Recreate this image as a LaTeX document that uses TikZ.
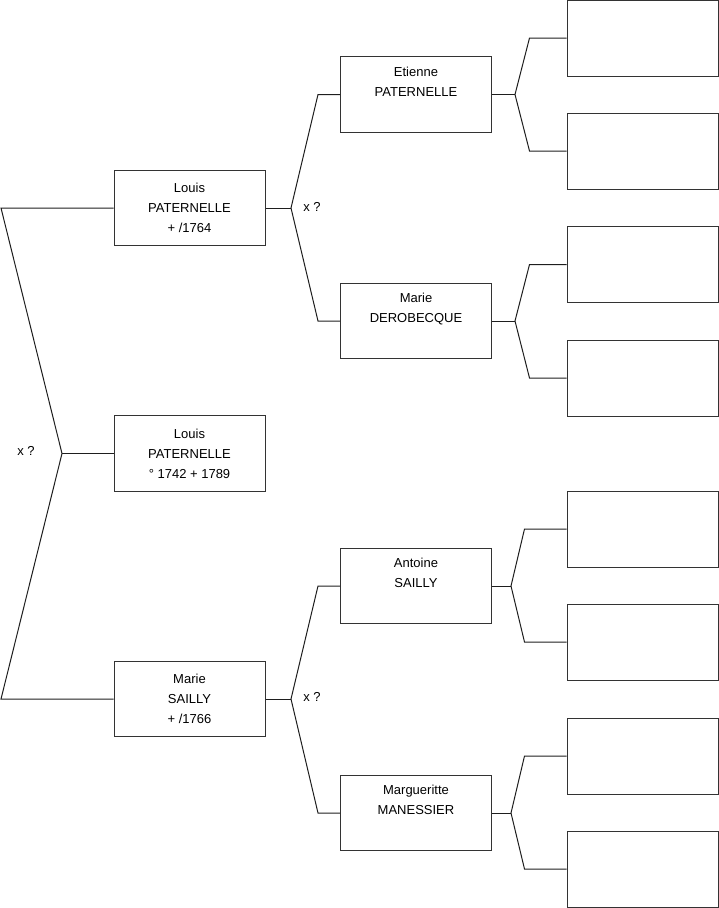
\documentclass[tikz,border=0pt]{standalone}
\usepackage{fontspec}
\setmainfont{Liberation Sans}
\usepackage{tikz}
\usetikzlibrary{calc,positioning}
\definecolor{boxline}{RGB}{51,51,51}
\definecolor{linkline}{RGB}{30,30,30}
\tikzset{
  font=\fontsize{13}{20}\selectfont,
  person/.style={
    draw=boxline, fill=white, line width=1pt, align=center,
    minimum width=151pt, minimum height=75.5pt, inner sep=0pt},
  emptyperson/.style={person, minimum height=76pt},
  link/.style={draw=linkline, line width=1pt},
  unionlbl/.style={inner sep=1pt, font=\fontsize{13}{15}\selectfont},
}

\begin{document}
\begin{tikzpicture}[x=1pt,y=-1pt]

\useasboundingbox (0,0) rectangle (719,908);

% ---------- subject ----------
\node[person] (root) at (189.5,453.5) {Louis\\ PATERNELLE\\ ° 1742 + 1789};

% ---------- parents ----------
\node[person] (fa) at (189.5,208) {Louis\\ PATERNELLE\\ + /1764};
\node[person] (mo) at (189.5,699) {Marie\\ SAILLY\\ + /1766};

% ---------- grandparents ----------
\node[person] (ffa) at (416,94.5) {Etienne\\ PATERNELLE\\ \strut};
\node[person] (fmo) at (416,321)  {Marie\\ DEROBECQUE\\ \strut};
\node[person] (mfa) at (416,586)  {Antoine\\ SAILLY\\ \strut};
\node[person] (mmo) at (416,813)  {Margueritte\\ MANESSIER\\ \strut};

% ---------- great-grandparents (unknown) ----------
\node[emptyperson] (ffafa) at (642.5,38)  {};
\node[emptyperson] (ffamo) at (642.5,151) {};
\node[emptyperson] (fmofa) at (642.5,264.5) {};
\node[emptyperson] (fmomo) at (642.5,378) {};
\node[emptyperson] (mfafa) at (642.5,529) {};
\node[emptyperson] (mfamo) at (642.5,642) {};
\node[emptyperson] (mmofa) at (642.5,756) {};
\node[emptyperson] (mmomo) at (642.5,869) {};

% ---------- fork points ----------
\coordinate (k0) at (62,453.5);
\coordinate (c0a) at (1,208);
\coordinate (c0b) at (1,699);
\coordinate (k1) at (291,208);
\coordinate (k2) at (291,699);
\coordinate (k3) at (515,94.5);
\coordinate (k4) at (515,321);
\coordinate (k5) at (511,586);
\coordinate (k6) at (511,813);

% ---------- links ----------
\draw[link] (fa.west) -- (c0a) -- (k0) -- (c0b) -- (mo.west);
\draw[link] (root.west) -- (k0);

\draw[link] (fa.east) -- (k1);
\draw[link] (ffa.west) -- ++(-22,0) -- (k1) -- ($(fmo.west)+(-22,0)$) -- (fmo.west);
\draw[link] (mo.east) -- (k2);
\draw[link] (mfa.west) -- ++(-22,0) -- (k2) -- ($(mmo.west)+(-22,0)$) -- (mmo.west);

\draw[link] (ffa.east) -- (k3);
\draw[link] (ffafa.west) -- ++(-37,0) -- (k3) -- ($(ffamo.west)+(-37,0)$) -- (ffamo.west);
\draw[link] (fmo.east) -- (k4);
\draw[link] (fmofa.west) -- ++(-37,0) -- (k4) -- ($(fmomo.west)+(-37,0)$) -- (fmomo.west);
\draw[link] (mfa.east) -- (k5);
\draw[link] (mfafa.west) -- ++(-42,0) -- (k5) -- ($(mfamo.west)+(-42,0)$) -- (mfamo.west);
\draw[link] (mmo.east) -- (k6);
\draw[link] (mmofa.west) -- ++(-42,0) -- (k6) -- ($(mmomo.west)+(-42,0)$) -- (mmomo.west);

% ---------- union labels ----------
\node[unionlbl] (u0) at (26,451) {x ?};
\node[unionlbl] (u1) at (312,207) {x ?};
\node[unionlbl] (u2) at (312,697) {x ?};

\end{tikzpicture}
\end{document}
